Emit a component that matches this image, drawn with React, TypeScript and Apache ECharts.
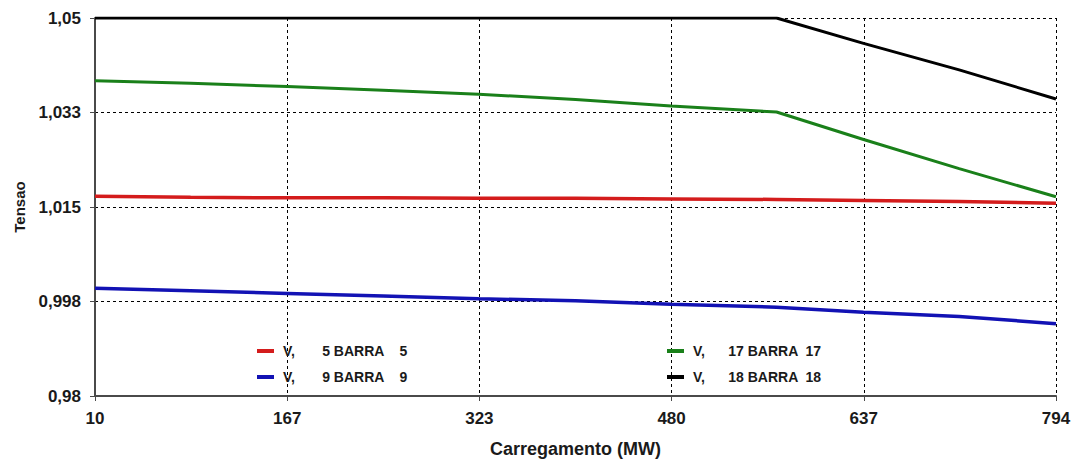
import React, { useEffect, useRef } from "react";
import * as echarts from "echarts";

const loadMW = [10, 88, 167, 245, 323, 402, 480, 566, 637, 715, 794];
const v5 = [1.017, 1.0168, 1.0167, 1.0167, 1.0166, 1.0166, 1.0165, 1.0164, 1.0162, 1.016, 1.0157];
const v9 = [0.99995, 0.9995, 0.999, 0.9985, 0.998, 0.99765, 0.997, 0.99644, 0.9955, 0.99472, 0.9934];
const v17 = [1.0384, 1.0379, 1.0373, 1.0366, 1.0359, 1.0349, 1.0337, 1.0326, 1.0275, 1.0221, 1.0169];
const v18 = [1.05, 1.05, 1.05, 1.05, 1.05, 1.05, 1.05, 1.05, 1.0453, 1.0404, 1.035];

const seriesNames = [
  "V,       5 BARRA    5",
  "V,       9 BARRA    9",
  "V,      17 BARRA  17",
  "V,      18 BARRA  18",
];
const seriesColors = ["#d41c1c", "#1212b4", "#1a801a", "#000000"];

const xTickLabels = ["10", "167", "323", "480", "637", "794"];
const yTickLabels = ["0,98", "0,998", "1,015", "1,033", "1,05"];

const FONT = "'Liberation Sans', Arial, sans-serif";

export default function App() {
  const ref = useRef<HTMLDivElement>(null);
  useEffect(() => {
    if (!ref.current) return;
    const chart = echarts.init(ref.current, null, { renderer: "svg" });
    const values = [v5, v9, v17, v18];
    const series = values.map((arr, i) => ({
      name: seriesNames[i],
      type: "line",
      xAxisIndex: 0,
      yAxisIndex: 0,
      showSymbol: false,
      symbol: "none",
      data: arr.map((v, j) => [loadMW[j], v]),
      lineStyle: { color: seriesColors[i], width: i === 2 || i === 3 ? 3 : 3.5 },
      itemStyle: { color: seriesColors[i] },
      z: 3,
    }));
    const legendText = { fontFamily: FONT, fontSize: 14, fontWeight: "bold", color: "#1a1a1a", padding: [0, 0, 0, 4] };
    chart.setOption({
      animation: false,
      backgroundColor: "#ffffff",
      grid: { left: 95, right: 18, top: 18, bottom: 66 },
      legend: [
        {
          data: [seriesNames[0], seriesNames[1]],
          orient: "vertical",
          left: 257,
          top: 343,
          padding: 0,
          itemGap: 10,
          itemWidth: 17,
          itemHeight: 4,
          icon: "rect",
          textStyle: { ...legendText, lineHeight: 16 },
          selectedMode: false,
        },
        {
          data: [seriesNames[2], seriesNames[3]],
          orient: "vertical",
          left: 667,
          top: 343,
          padding: 0,
          itemGap: 10,
          itemWidth: 17,
          itemHeight: 4,
          icon: "rect",
          textStyle: { ...legendText, lineHeight: 16 },
          selectedMode: false,
        },
      ],
      xAxis: [
        { type: "value", min: 10, max: 794, show: false },
        {
          type: "value",
          min: 0,
          max: 3920,
          interval: 784,
          position: "bottom",
          name: "Carregamento (MW)",
          nameLocation: "middle",
          nameGap: 44,
          nameTextStyle: { fontFamily: FONT, fontSize: 18, fontWeight: "bold", color: "#1a1a1a" },
          axisLine: { show: true, lineStyle: { color: "#4a4a4a", width: 2 } },
          axisTick: { show: true, length: 5, lineStyle: { color: "#4a4a4a", width: 1 } },
          axisLabel: {
            margin: 14,
            fontFamily: FONT,
            fontSize: 17,
            fontWeight: "bold",
            color: "#1a1a1a",
            formatter: (v: number) => xTickLabels[Math.round(v / 784)],
          },
          splitLine: { show: true, lineStyle: { color: "#000", width: 1, type: [3, 3] } },
        },
      ],
      yAxis: [
        { type: "value", min: 0.98, max: 1.05, show: false },
        {
          type: "value",
          min: 0,
          max: 4,
          interval: 1,
          position: "left",
          name: "Tensao",
          nameLocation: "middle",
          nameGap: 68,
          nameTextStyle: { fontFamily: FONT, fontSize: 15, fontWeight: "bold", color: "#1a1a1a", padding: [0, 0, 0, 0] },
          axisLine: { show: true, lineStyle: { color: "#4a4a4a", width: 2 } },
          axisTick: { show: true, length: 5, lineStyle: { color: "#4a4a4a", width: 1 } },
          axisLabel: {
            margin: 14,
            fontFamily: FONT,
            fontSize: 17,
            fontWeight: "bold",
            color: "#1a1a1a",
            formatter: (v: number) => yTickLabels[Math.round(v)],
          },
          splitLine: { show: true, lineStyle: { color: "#000", width: 1, type: [3, 3] } },
        },
      ],
      series,
    });
    return () => chart.dispose();
  }, []);
  return (
    <div
      ref={ref}
      style={{ position: "fixed", left: 0, top: 0, width: 1074, height: 463, background: "#fff" }}
    />
  );
}
